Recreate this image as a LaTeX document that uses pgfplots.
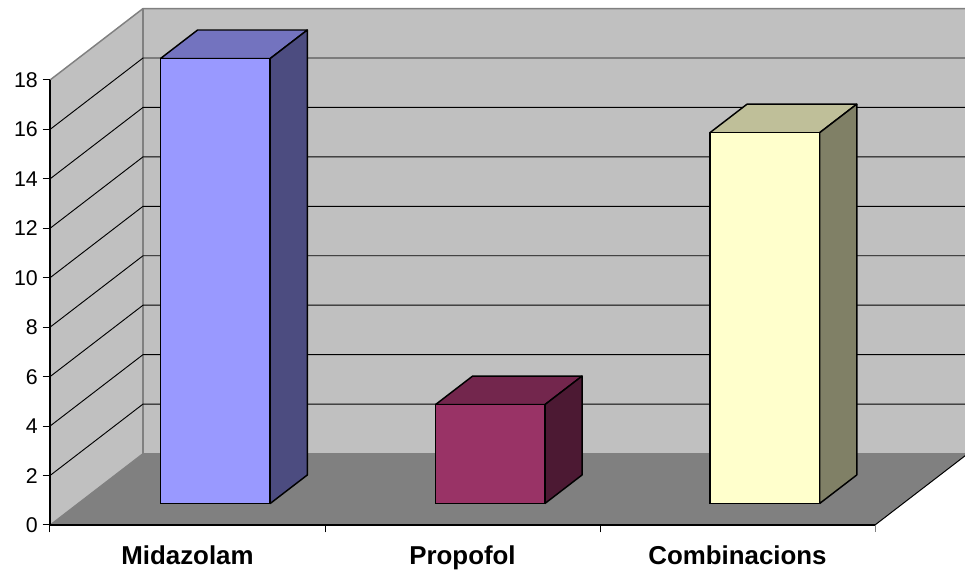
\documentclass[border=0pt]{standalone}
\usepackage{pgfplots}
\pgfplotsset{compat=1.18}
\usepackage{fontspec}
\setmainfont{Liberation Sans}

\definecolor{wall}{HTML}{C0C0C0}
\definecolor{floorc}{HTML}{808080}
\definecolor{edge}{HTML}{808080}
\definecolor{bara}{HTML}{9999FF}
\definecolor{barat}{HTML}{7373BF}
\definecolor{baras}{HTML}{4C4C80}
\definecolor{barb}{HTML}{993366}
\definecolor{barbt}{HTML}{73264D}
\definecolor{barbs}{HTML}{4C1933}
\definecolor{barc}{HTML}{FFFFCC}
\definecolor{barct}{HTML}{BFBF99}
\definecolor{barcs}{HTML}{808066}

% one 3d column: x from, x to, value, front, top, side colours
\newcommand{\column}[6]{
  \addplot3[fill=#5, draw=black, line width=1.1pt, line join=round] coordinates {(#1,0.3,#3)(#2,0.3,#3)(#2,0.7,#3)(#1,0.7,#3)(#1,0.3,#3)};
  \addplot3[fill=#6, draw=black, line width=1.1pt, line join=round] coordinates {(#2,0.3,0)(#2,0.7,0)(#2,0.7,#3)(#2,0.3,#3)(#2,0.3,0)};
  \addplot3[fill=#4, draw=black, line width=1.1pt, line join=round] coordinates {(#1,0.3,0)(#2,0.3,0)(#2,0.3,#3)(#1,0.3,#3)(#1,0.3,0)};
}

\begin{document}
\begin{tikzpicture}
\begin{axis}[
  at={(0pt,0pt)}, anchor=origin,
  x={(206.25pt,0pt)}, y={(69.75pt,53.6pt)}, z={(0pt,18.54pt)},
  xmin=0, xmax=3, ymin=0, ymax=1, zmin=0, zmax=18,
  hide axis, clip=false,
]
% walls and floor
\addplot3[fill=wall, draw=none] coordinates {(0,1,0)(3.1,1,0)(3.1,1,18)(0,1,18)(0,1,0)};
\addplot3[fill=wall, draw=none] coordinates {(0,0,0)(0,1,0)(0,1,18)(0,0,18)(0,0,0)};
\addplot3[fill=floorc, draw=none] coordinates {(0,0,0)(3,0,0)(3,1,0)(0,1,0)(0,0,0)};
% wall edges
\addplot3[edge, line width=1.1pt] coordinates {(0,0,18)(0,1,18)(3.1,1,18)};
\addplot3[edge, line width=1.1pt] coordinates {(0,1,18)(0,1,0)(3.1,1,0)};
\addplot3[edge, line width=0.8pt] coordinates {(0,0,0)(0,1,0)};
\addplot3[black, line width=0.75pt] coordinates {(3,0,0)(3,1,0)};
% gridlines
\pgfplotsinvokeforeach{2,4,6,8,10,12,14,16}{
  \addplot3[black, line width=0.7pt] coordinates {(0,0,#1)(0,1,#1)(3.1,1,#1)};
}
% columns
\column{0.3}{0.699}{18}{bara}{barat}{baras}
\column{1.3}{1.698}{4}{barb}{barbt}{barbs}
\column{2.298}{2.697}{15}{barc}{barct}{barcs}
\end{axis}

\begin{axis}[
  at={(0pt,0pt)}, anchor=origin,
  scale only axis, width=618.75pt, height=333.75pt,
  xmin=0, xmax=3, ymin=0, ymax=18,
  axis x line=bottom, axis y line=left,
  axis line style={black, line width=0.9pt, -},
  clip=false,
  xtick={0,1,2}, xticklabels={},
  extra x ticks={0.5,1.5,2.5},
  extra x tick labels={Midazolam,Propofol,Combinacions},
  extra x tick style={tick style={draw=none}},
  ytick={0,2,...,18},
  tick style={black, line width=0.75pt},
  major tick length=5.5pt,
  tick align=outside,
  /pgf/number format/assume math mode=true,
  yticklabel style={font=\fontsize{16pt}{18pt}\selectfont, inner sep=0pt, xshift=-3.5pt},
  xticklabel style={font=\fontsize{19.4pt}{22pt}\selectfont\bfseries, anchor=base, yshift=-24.5pt},
]
% last tick at the floor corner is grey
\addplot[edge, line width=0.75pt] coordinates {(3,0)(3,-0.3)};
\end{axis}
\pgfresetboundingbox
\path[use as bounding box] (-37.5pt,-34.5pt) rectangle (686.25pt,393.75pt);
\end{tikzpicture}
\end{document}
